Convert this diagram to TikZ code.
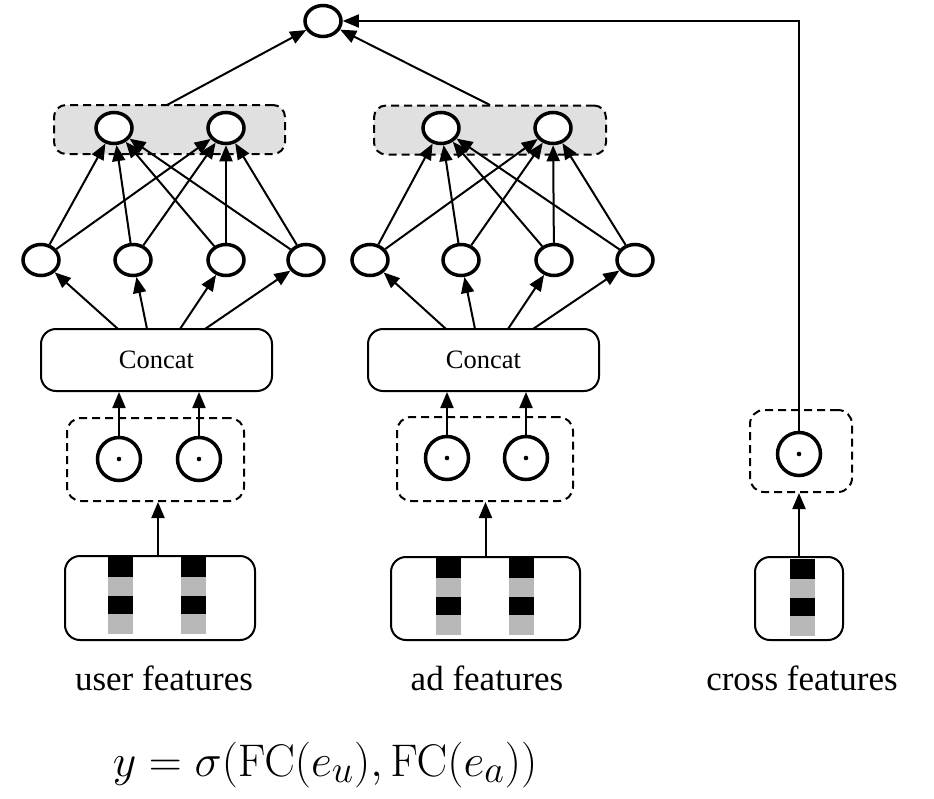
\documentclass[tikz,border=0pt]{standalone}
\usepackage[no-math]{fontspec}
\setmainfont{Liberation Serif}
\usetikzlibrary{arrows.meta,shapes.geometric}
\definecolor{shadegray}{gray}{0.88}
\definecolor{bargray}{gray}{0.72}
\newcommand{\featbar}[2]{%
  \fill[black] (#1,#2) rectangle ++(25,20);
  \fill[bargray] (#1,#2+20) rectangle ++(25,19);
  \fill[black] (#1,#2+39) rectangle ++(25,18);
  \fill[bargray] (#1,#2+57) rectangle ++(25,20);}
\begin{document}
\begin{tikzpicture}[x=1pt,y=-1pt,
  neuron/.style={draw,ellipse,line width=3.5pt,minimum width=36pt,minimum height=31pt,inner sep=0pt,fill=white},
  dotcirc/.style={draw,circle,line width=3.5pt,minimum size=43pt,inner sep=0pt,
    path picture={\fill (path picture bounding box.center) circle (2.3pt);}},
  arr/.style={line width=2pt,-{Triangle[length=16pt,width=13pt]}},
  shadebox/.style={draw,dashed,dash pattern=on 8pt off 5pt,line width=2pt,fill=shadegray,rounded corners=12pt,inner sep=0pt},
  dashbox/.style={draw,dashed,dash pattern=on 8pt off 5pt,line width=2pt,rounded corners=14pt,inner sep=0pt},
  solidbox/.style={draw,line width=2pt,rounded corners=15pt,inner sep=0pt},
  lbl/.style={anchor=base,font=\fontsize{35}{40}\selectfont},
  ctext/.style={font=\fontsize{26.5}{30}\selectfont}
]
\useasboundingbox (0,0) rectangle (934,798);

% shaded output groups
\node[shadebox,minimum width=231pt,minimum height=49pt] (shL) at (169.5,129.5) {};
\node[shadebox,minimum width=232pt,minimum height=49pt] (shR) at (490,130) {};

% top node
\node[neuron] (top) at (323,21) {};

% top layer neurons
\node[neuron] (tL1) at (114,128) {};
\node[neuron] (tL2) at (226,128) {};
\node[neuron] (tR1) at (441,128) {};
\node[neuron] (tR2) at (553,128) {};

% hidden neurons
\node[neuron] (hL1) at (41,260) {};
\node[neuron] (hL2) at (133,260) {};
\node[neuron] (hL3) at (226,260) {};
\node[neuron] (hL4) at (306,260) {};
\node[neuron] (hR1) at (370,260) {};
\node[neuron] (hR2) at (461,260) {};
\node[neuron] (hR3) at (554,260) {};
\node[neuron] (hR4) at (635,260) {};

% concat boxes
\node[solidbox,ctext,minimum width=231pt,minimum height=62pt] (cL) at (156.5,360) {Concat};
\node[solidbox,ctext,minimum width=231pt,minimum height=62pt] (cR) at (483.5,360) {Concat};

% dashed product groups
\node[dashbox,minimum width=177pt,minimum height=83pt] (dbL) at (155.5,459.5) {};
\node[dashbox,minimum width=176pt,minimum height=84pt] (dbR) at (485,459) {};
\node[dashbox,minimum width=102pt,minimum height=82pt] (dbX) at (801,451) {};

\node[dotcirc] (dL1) at (119,459) {};
\node[dotcirc] (dL2) at (199,459) {};
\node[dotcirc] (dR1) at (447,458) {};
\node[dotcirc] (dR2) at (526,458) {};
\node[dotcirc] (xc) at (799,454) {};

% feature boxes
\node[solidbox,minimum width=190pt,minimum height=84pt] (fbL) at (160,598) {};
\node[solidbox,minimum width=189pt,minimum height=83pt] (fbR) at (485.5,598.5) {};
\node[solidbox,minimum width=88pt,minimum height=83pt] (fbX) at (799,598.5) {};
\featbar{108}{557}
\featbar{181}{557}
\featbar{436}{558}
\featbar{509}{558}
\featbar{790}{559}

% labels
\node[lbl] (labU) at (164,690) {user features};
\node[lbl] (labA) at (487,690) {ad features};
\node[lbl] (labX) at (802,690) {cross features};
\node[anchor=base,inner sep=0pt] (formula) at (325,776)
  {\scalebox{1.84}{\Huge $y=\sigma(\mathrm{FC}(e_u),\mathrm{FC}(e_a))$}};

% connector start coordinates
\coordinate (sL) at (167,105);
\coordinate (sR) at (490,105);
\coordinate (cL1) at (118,329);
\coordinate (cL2) at (147,329);
\coordinate (cL3) at (180,329);
\coordinate (cL4) at (205,329);
\coordinate (cR1) at (446,329);
\coordinate (cR2) at (475,329);
\coordinate (cR3) at (508,329);
\coordinate (cR4) at (533,329);

% arrows to top
\draw[arr] (sL) -- (top);
\draw[arr] (sR) -- (top);
\draw[line width=1.6pt,-{Triangle[length=16pt,width=13pt]}] (xc.north) |- (top.east);

% hidden -> top layer
\foreach \h in {1,2,3,4}{
  \foreach \t in {1,2}{
    \draw[arr] (hL\h) -- (tL\t);
    \draw[arr] (hR\h) -- (tR\t);
  }
}

% concat -> hidden
\foreach \i in {1,2,3,4}{
  \draw[arr] (cL\i) -- (hL\i);
  \draw[arr] (cR\i) -- (hR\i);
}

% product -> concat
\draw[arr] (dL1.north) -- (dL1.north |- cL.south);
\draw[arr] (dL2.north) -- (dL2.north |- cL.south);
\draw[arr] (dR1.north) -- (dR1.north |- cR.south);
\draw[arr] (dR2.north) -- (dR2.north |- cR.south);

% features -> product groups
\draw[arr] (fbL.north) ++(-2,0) -- (158,502);
\draw[arr] (fbR.north) -- (fbR.north |- dbR.south);
\draw[arr] (fbX.north) -- (fbX.north |- dbX.south);
\end{tikzpicture}
\end{document}
